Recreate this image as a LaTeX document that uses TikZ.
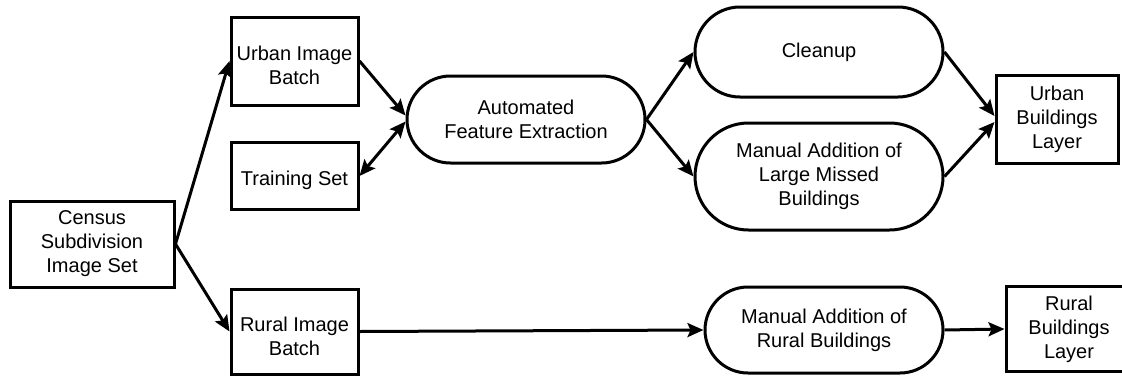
\documentclass[tikz,border=0pt]{standalone}
\usepackage{fontspec}
\setmainfont{Liberation Sans}
\usetikzlibrary{shapes.misc}
\usetikzlibrary{arrows.meta}

\tikzset{
  box/.style={draw, line width=1.5pt, align=center, inner sep=1pt},
  pill/.style={draw, rounded rectangle, line width=1.5pt, align=center, inner sep=1pt},
  flow/.style={line width=1.5pt},
}

\begin{document}
\begin{tikzpicture}[x=0.5pt,y=-0.5pt,font=\fontsize{10}{12}\selectfont,
  >={Stealth[length=8pt,width=7pt,inset=1.5pt]}]
\useasboundingbox (0,0) rectangle (1122,375);

\node[box, minimum width=82pt, minimum height=43pt] (census) at (92,244) {Census\\Subdivision\\Image Set};

\node[box, minimum width=63.5pt, minimum height=44pt] (urbanbatch) at (294.5,61) {\mbox{}\\Urban Image\\Batch};
\node[box, minimum width=63.5pt, minimum height=33.5pt] (training) at (294.5,176) {\mbox{}\\Training Set};
\node[box, minimum width=63.5pt, minimum height=42.5pt] (ruralbatch) at (294.5,331.5) {\mbox{}\\Rural Image\\Batch};

\node[pill, minimum width=121pt, minimum height=43.5pt] (afe) at (526,119.5) {Automated\\Feature Extraction};
\node[pill, minimum width=126pt, minimum height=45pt] (cleanup) at (819,52) {Cleanup};
\node[pill, minimum width=126pt, minimum height=53.5pt] (large) at (819,176.5) {Manual Addition of\\Large Missed\\Buildings};
\node[pill, minimum width=121pt, minimum height=43pt] (ruraladd) at (824,330) {Manual Addition of\\Rural Buildings};

\node[box, minimum width=61pt, minimum height=44pt] (urbanlayer) at (1057,119) {Urban\\Buildings\\Layer};
\node[box, minimum width=63pt, minimum height=42.5pt] (rurallayer) at (1069,329) {Rural\\Buildings\\Layer};

\draw[flow,->] (census.east) -- (urbanbatch.west);
\draw[flow,->] (census.east) -- (ruralbatch.west);

\draw[flow,->] (urbanbatch.east) -- ([yshift=2pt]afe.west);
\draw[flow,<->] (training.east) -- ([yshift=-1pt]afe.west);

\draw[flow,->] (afe.east) -- (cleanup.west);
\draw[flow,->] (afe.east) -- (large.west);

\draw[flow,->] (cleanup.east) -- ([yshift=1.5pt]urbanlayer.west);
\draw[flow,->] (large.east) -- ([yshift=-1.5pt]urbanlayer.west);

\draw[flow,->] (ruralbatch.east) -- (ruraladd.west);
\draw[flow,->] (ruraladd.east) -- (rurallayer.west);
\end{tikzpicture}
\end{document}
